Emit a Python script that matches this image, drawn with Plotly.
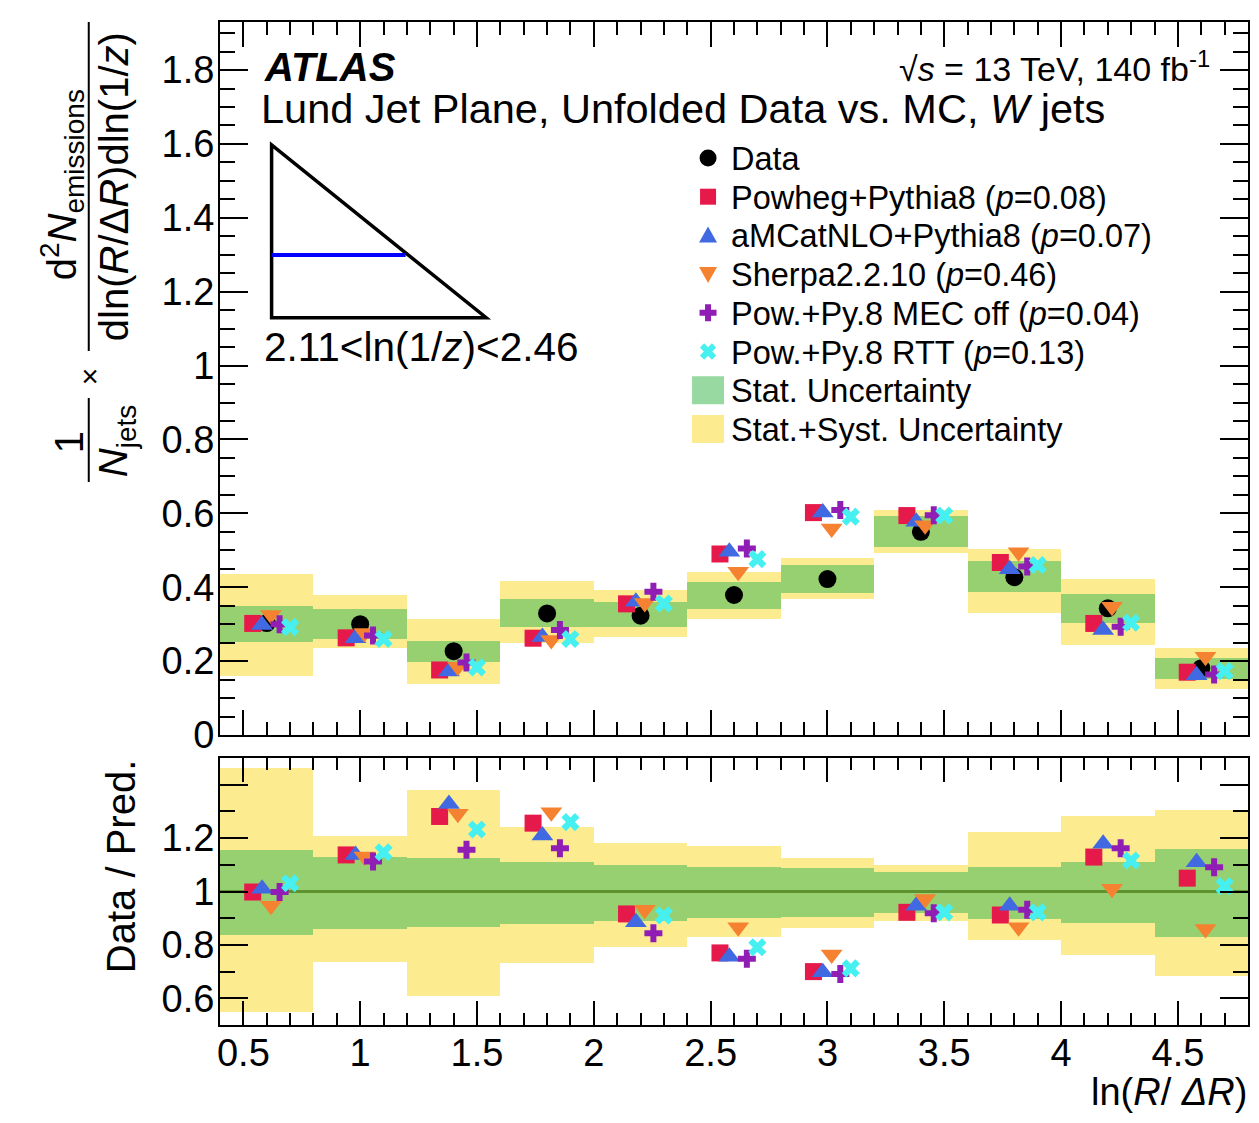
import numpy as np
import plotly.graph_objects as go

# ---------------- data ----------------
bin_edges = [0.4, 0.8, 1.2, 1.6, 2.0, 2.4, 2.8, 3.2, 3.6, 4.0, 4.4, 4.8]

data_vals = [0.303, 0.300, 0.227, 0.329, 0.323, 0.379, 0.422, 0.550, 0.427, 0.343, 0.181]
stat_hi = [0.349, 0.341, 0.255, 0.368, 0.359, 0.415, 0.460, 0.593, 0.471, 0.381, 0.209]
stat_lo = [0.253, 0.260, 0.197, 0.292, 0.293, 0.341, 0.384, 0.508, 0.387, 0.302, 0.151]
tot_hi = [0.436, 0.379, 0.314, 0.417, 0.393, 0.442, 0.478, 0.609, 0.504, 0.421, 0.235]
tot_lo = [0.160, 0.236, 0.139, 0.248, 0.266, 0.314, 0.367, 0.492, 0.331, 0.244, 0.124]

powheg = [0.302, 0.263, 0.176, 0.262, 0.355, 0.490, 0.602, 0.594, 0.467, 0.302, 0.170]
amcnlo = [0.298, 0.262, 0.172, 0.265, 0.361, 0.496, 0.602, 0.577, 0.449, 0.284, 0.162]
sherpa = [0.325, 0.276, 0.185, 0.257, 0.357, 0.442, 0.559, 0.568, 0.495, 0.347, 0.212]
mecoff = [0.300, 0.269, 0.196, 0.284, 0.388, 0.505, 0.609, 0.595, 0.456, 0.293, 0.164]
rtt = [0.292, 0.260, 0.183, 0.260, 0.356, 0.476, 0.591, 0.594, 0.460, 0.304, 0.173]

r_tot_hi = [1.462, 1.207, 1.379, 1.241, 1.181, 1.169, 1.127, 1.101, 1.222, 1.282, 1.304]
r_tot_lo = [0.547, 0.735, 0.607, 0.732, 0.791, 0.829, 0.864, 0.890, 0.820, 0.764, 0.682]
r_stat_hi = [1.154, 1.131, 1.126, 1.112, 1.100, 1.091, 1.087, 1.072, 1.091, 1.110, 1.160]
r_stat_lo = [0.838, 0.860, 0.866, 0.879, 0.891, 0.900, 0.904, 0.919, 0.898, 0.881, 0.831]

r_powheg = [0.998, 1.137, 1.281, 1.256, 0.916, 0.770, 0.700, 0.922, 0.912, 1.129, 1.050]
r_amcnlo = [1.010, 1.137, 1.328, 1.210, 0.885, 0.756, 0.698, 0.947, 0.947, 1.179, 1.110]
r_sherpa = [0.947, 1.131, 1.291, 1.297, 0.932, 0.866, 0.764, 0.972, 0.866, 1.010, 0.860]
r_mecoff = [0.998, 1.112, 1.156, 1.162, 0.844, 0.748, 0.691, 0.919, 0.932, 1.162, 1.091]
r_rtt = [1.031, 1.147, 1.232, 1.260, 0.910, 0.791, 0.712, 0.922, 0.922, 1.116, 1.020]

mc_names = ["Powheg+Pythia8 (<i>p</i>=0.08)", "aMCatNLO+Pythia8 (<i>p</i>=0.07)",
            "Sherpa2.2.10 (<i>p</i>=0.46)", "Pow.+Py.8 MEC off (<i>p</i>=0.04)",
            "Pow.+Py.8 RTT (<i>p</i>=0.13)"]
legend_labels = ["Data"] + mc_names + ["Stat. Uncertainty", "Stat.+Syst. Uncertainty"]

# ---------------- styles ----------------
FONT = "Liberation Sans, Arial, Helvetica, sans-serif"
YELLOW = "#FDEC8F"
GREEN = "rgba(72,186,88,0.56)"
mc_colors = ["#E6194B", "#4169E1", "#F58231", "#911EB4", "#46F0F0"]
mc_symbols = ["square", "triangle-up", "triangle-down", "cross", "x"]
mc_sizes = [17, 19, 19, 15, 16]
mc_offsets = [-0.06, -0.02, 0.018, 0.055, 0.10]

edges = np.array(bin_edges)
centers = 0.5 * (edges[:-1] + edges[1:])
widths = edges[1:] - edges[:-1]

fig = go.Figure()


def band(lo, hi, color, xa, ya):
    lo = np.array(lo)
    hi = np.array(hi)
    fig.add_trace(go.Bar(x=centers, y=hi - lo, base=lo, width=widths,
                         marker=dict(color=color, line=dict(width=0)),
                         xaxis=xa, yaxis=ya, showlegend=False, hoverinfo="skip"))


# top panel
band(tot_lo, tot_hi, YELLOW, "x", "y")
band(stat_lo, stat_hi, GREEN, "x", "y")
fig.add_trace(go.Scatter(x=centers, y=data_vals, mode="markers",
                         marker=dict(symbol="circle", size=18, color="black"),
                         xaxis="x", yaxis="y", showlegend=False))
for vals, col, sym, sz, off in zip([powheg, amcnlo, sherpa, mecoff, rtt], mc_colors,
                                   mc_symbols, mc_sizes, mc_offsets):
    fig.add_trace(go.Scatter(x=centers + off, y=vals, mode="markers",
                             marker=dict(symbol=sym, size=sz, color=col, line=dict(width=0)),
                             xaxis="x", yaxis="y", showlegend=False))

# ratio panel
band(r_tot_lo, r_tot_hi, YELLOW, "x2", "y2")
band(r_stat_lo, r_stat_hi, GREEN, "x2", "y2")
fig.add_trace(go.Scatter(x=[bin_edges[0], bin_edges[-1]], y=[1, 1], mode="lines",
                         line=dict(color="#5E922F", width=3),
                         xaxis="x2", yaxis="y2", showlegend=False))
for vals, col, sym, sz, off in zip([r_powheg, r_amcnlo, r_sherpa, r_mecoff, r_rtt], mc_colors,
                                   mc_symbols, mc_sizes, mc_offsets):
    fig.add_trace(go.Scatter(x=centers + off, y=vals, mode="markers",
                             marker=dict(symbol=sym, size=sz, color=col, line=dict(width=0)),
                             xaxis="x2", yaxis="y2", showlegend=False))

# ---------------- layout ----------------
# the page has an 8 px body margin; the figure is sized so no scrollbar appears
OFF = 8
W, H = 1243, 1107
PL, PR, PT, PB = 220, 1250, 22, 1025          # plot frame in page pixels
ML, MT = PL - OFF, PT - OFF
MR = W - (PR - OFF)
MB = H - (PB - OFF)
PW, PH = PR - PL, PB - PT


def pxx(px):
    return (px - PL) / PW


def pxy(py):
    return (PB - py) / PH


common_axis = dict(showline=True, linewidth=2, linecolor="black", mirror="allticks",
                   ticks="inside", tickwidth=2, tickcolor="black", showgrid=False,
                   zeroline=False, tickfont=dict(family=FONT, size=38, color="black"))

fig.update_layout(
    width=W, height=H, autosize=False,
    margin=dict(l=ML, r=MR, t=MT, b=MB, pad=0),
    paper_bgcolor="white", plot_bgcolor="white",
    barmode="overlay", bargap=0, showlegend=False,
    font=dict(family=FONT, color="black"),
    xaxis=dict(domain=[0, 1], anchor="y", range=[0.4, 4.8], tick0=0.5, dtick=0.5,
               ticklen=25, showticklabels=False,
               minor=dict(dtick=0.1, tick0=0.4, ticklen=13, tickwidth=2, ticks="inside",
                          tickcolor="black"),
               **common_axis),
    yaxis=dict(domain=[pxy(735), 1], anchor="x", range=[0, 1.93], tick0=0, dtick=0.2,
               ticklen=28, ticklabelstandoff=-4,
               minor=dict(dtick=0.05, tick0=0, ticklen=15, tickwidth=2, ticks="inside",
                          tickcolor="black"),
               **common_axis),
    xaxis2=dict(domain=[0, 1], anchor="y2", range=[0.4, 4.8], tick0=0.5, dtick=0.5,
                ticklen=24, ticklabelstandoff=-7,
                minor=dict(dtick=0.1, tick0=0.4, ticklen=12, tickwidth=2, ticks="inside",
                           tickcolor="black"),
                **common_axis),
    yaxis2=dict(domain=[0, pxy(758)], anchor="x2", range=[0.5, 1.5],
                tickmode="array", tickvals=[0.6, 0.8, 1.0, 1.2, 1.4],
                ticktext=["0.6", "0.8", "1", "1.2", " "], ticklen=28, ticklabelstandoff=-4,
                minor=dict(dtick=0.1, tick0=0.5, ticklen=15, tickwidth=2, ticks="inside",
                           tickcolor="black"),
                **common_axis),
)

ann = []


def text(px, py, s, size, xanchor="left", yanchor="middle", angle=0):
    ann.append(dict(x=pxx(px), y=pxy(py), xref="paper", yref="paper", text=s,
                    showarrow=False, xanchor=xanchor, yanchor=yanchor, textangle=angle,
                    font=dict(family=FONT, size=size, color="black")))


text(262, 67, "<b><i>ATLAS</i></b>", 40)
text(259, 109, "Lund Jet Plane, Unfolded Data vs. MC, <i>W</i> jets", 41.5)
text(1214, 66, "√<i>s</i> = 13 TeV, 140 fb<sup>-1</sup>", 34, xanchor="right")
text(262, 347, "2.11&lt;ln(1/<i>z</i>)&lt;2.46", 40.5)
text(1251, 1092, "ln(<i>R</i>/ <i>ΔR</i>)", 38, xanchor="right")
text(121, 867, "Data / Pred.", 40, xanchor="center", angle=-90)

# y-axis title of upper panel (fraction layout)
text(62, 185, "d<sup>2</sup><i>N</i><sub>emissions</sub>", 40, xanchor="center", angle=-90)
text(114, 187, "dln(<i>R</i>/Δ<i>R</i>)dln(1/<i>z</i>)", 40, xanchor="center", angle=-90)
text(90, 376, "×", 30, xanchor="center", angle=-90)
text(69, 442, "1", 40, xanchor="center", angle=-90)
text(116, 441, "<i>N</i><sub>jets</sub>", 40, xanchor="center", angle=-90)

shapes = []
shapes.append(dict(type="line", xref="paper", yref="paper", x0=pxx(88.5), x1=pxx(88.5),
                   y0=pxy(22), y1=pxy(351), line=dict(color="black", width=2)))
shapes.append(dict(type="line", xref="paper", yref="paper", x0=pxx(88.5), x1=pxx(88.5),
                   y0=pxy(398), y1=pxy(482), line=dict(color="black", width=2)))

# inset Lund-plane triangle
tri = [(271.7, 145), (271.7, 317.7), (486.7, 317.7)]
path = "M " + " L ".join(f"{pxx(a):.5f},{pxy(b):.5f}" for a, b in tri) + " Z"
shapes.append(dict(type="path", xref="paper", yref="paper", path=path,
                   line=dict(color="black", width=3.5)))
shapes.append(dict(type="line", xref="paper", yref="paper", x0=pxx(271.7), x1=pxx(406),
                   y0=pxy(255), y1=pxy(255), line=dict(color="#0000FF", width=4)))

# manual legend
LX, LY0, LDY = 709, 158, 38.7


def pix_path(pts):
    return "M " + " L ".join(f"{a:.2f},{b:.2f}" for a, b in pts) + " Z"


plus = [(-3, 8.5), (3, 8.5), (3, 3), (8.5, 3), (8.5, -3), (3, -3), (3, -8.5), (-3, -8.5),
        (-3, -3), (-8.5, -3), (-8.5, 3), (-3, 3)]
c45 = np.cos(np.pi / 4)
xsym = [(a * c45 - b * c45, a * c45 + b * c45) for a, b in plus]
key_paths = {
    "triangle-up": [(-9, -7), (9, -7), (0, 9)],
    "triangle-down": [(-9, 7), (9, 7), (0, -9)],
    "cross": plus,
    "x": xsym,
}

for i, lab in enumerate(legend_labels):
    py = LY0 + i * LDY
    text(730, py + 1, lab, 32.5)
    base = dict(xref="paper", yref="paper", xsizemode="pixel", ysizemode="pixel",
                xanchor=pxx(LX), yanchor=pxy(py), line=dict(width=0))
    if i == 0:
        shapes.append(dict(type="circle", x0=-8.5, x1=8.5, y0=-8.5, y1=8.5,
                           fillcolor="black", **base))
    elif i <= 5:
        sym = mc_symbols[i - 1]
        col = mc_colors[i - 1]
        if sym == "square":
            shapes.append(dict(type="rect", x0=-8, x1=8, y0=-8, y1=8, fillcolor=col, **base))
        else:
            shapes.append(dict(type="path", path=pix_path(key_paths[sym]), fillcolor=col,
                               **base))
    else:
        col = GREEN if i == 6 else YELLOW
        shapes.append(dict(type="rect", x0=-16, x1=16, y0=-14, y1=14, fillcolor=col, **base))

fig.update_layout(annotations=ann, shapes=shapes)
fig.write_html("out.html")
